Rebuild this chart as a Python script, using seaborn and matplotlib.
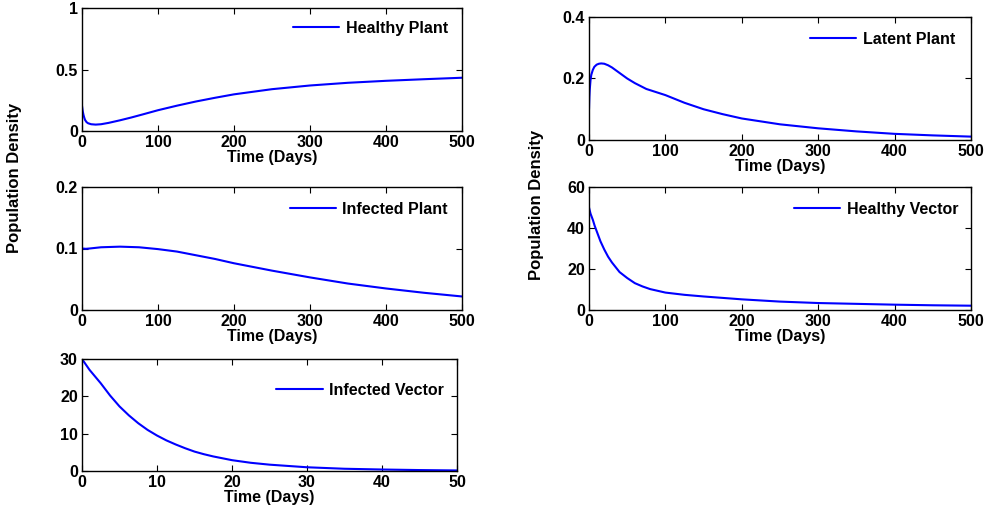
import numpy as np
import pandas as pd
import matplotlib
matplotlib.use("Agg")
import matplotlib.pyplot as plt
import seaborn as sns

sns.set_style("ticks")
plt.rcParams['font.family'] = ['Liberation Sans', 'DejaVu Sans']
plt.rcParams['font.weight'] = 'bold'
plt.rcParams['axes.labelweight'] = 'bold'
plt.rcParams['text.color'] = 'black'
plt.rcParams['axes.labelcolor'] = 'black'
plt.rcParams['xtick.color'] = 'black'
plt.rcParams['ytick.color'] = 'black'

# ---- data ----
hp_t = [0, 1, 2, 3, 4, 6, 8, 12, 18, 25, 35, 50, 65, 80, 100, 125, 150, 175, 200, 250, 300, 350, 400, 450, 500]
hp_v = [0.205, 0.16, 0.13, 0.108, 0.09, 0.072, 0.063, 0.055, 0.052, 0.055, 0.066, 0.087, 0.11, 0.135, 0.169, 0.206, 0.24, 0.27, 0.298, 0.34, 0.37, 0.392, 0.408, 0.421, 0.433]

lp_t = [0, 0.5, 1, 2, 3, 5, 7, 10, 13, 16, 20, 25, 30, 40, 50, 60, 75, 100, 125, 150, 175, 200, 250, 300, 350, 400, 450, 500]
lp_v = [0.1, 0.14, 0.165, 0.195, 0.212, 0.228, 0.238, 0.245, 0.248, 0.249, 0.248, 0.243, 0.236, 0.218, 0.2, 0.185, 0.166, 0.146, 0.121, 0.1, 0.084, 0.07, 0.051, 0.038, 0.028, 0.02, 0.015, 0.011]

ip_t = [0, 5, 10, 25, 50, 75, 100, 125, 150, 175, 200, 225, 250, 300, 350, 400, 450, 500]
ip_v = [0.1, 0.0995, 0.1, 0.102, 0.103, 0.102, 0.099, 0.095, 0.089, 0.083, 0.076, 0.07, 0.064, 0.053, 0.043, 0.035, 0.028, 0.022]

hv_t = [0, 2, 5, 7.5, 10, 15, 20, 25, 30, 40, 50, 60, 70, 80, 100, 125, 150, 200, 250, 300, 350, 400, 450, 500]
hv_v = [50, 47, 44, 41, 38.5, 33.5, 29.5, 26, 23.2, 18.5, 15.6, 13.1, 11.5, 10.2, 8.5, 7.4, 6.6, 5.2, 4.1, 3.4, 3.0, 2.6, 2.3, 2.1]

iv_t = [0, 1, 2.5, 3.75, 5, 6.25, 7.5, 8.75, 10, 11.25, 12.5, 13.75, 15, 16.25, 17.5, 20, 22.5, 25, 30, 35, 40, 45, 50]
iv_v = [30, 27.1, 23.5, 20.2, 17.3, 14.9, 12.8, 11.0, 9.5, 8.2, 7.1, 6.1, 5.2, 4.5, 3.9, 2.9, 2.2, 1.7, 1.0, 0.6, 0.4, 0.25, 0.15]

W, H = 987, 520
fig = plt.figure(figsize=(W / 100, H / 100), dpi=100)

def ax_px(x0, x1, y0, y1):
    return fig.add_axes([x0 / W, 1 - y1 / H, (x1 - x0) / W, (y1 - y0) / H])

panels = [
    (ax_px(82, 462, 8, 131), hp_t, hp_v, "Healthy Plant", (0, 500), [0, 100, 200, 300, 400, 500], (0, 1), [0, 0.5, 1], ["0", "0.5", "1"], (0.963, 0.837)),
    (ax_px(589, 971, 17, 140), lp_t, lp_v, "Latent Plant", (0, 500), [0, 100, 200, 300, 400, 500], (0, 0.4), [0, 0.2, 0.4], ["0", "0.2", "0.4"], (0.958, 0.821)),
    (ax_px(82, 462, 187, 310), ip_t, ip_v, "Infected Plant", (0, 500), [0, 100, 200, 300, 400, 500], (0, 0.2), [0, 0.1, 0.2], ["0", "0.1", "0.2"], (0.963, 0.821)),
    (ax_px(589, 971, 187, 310), hv_t, hv_v, "Healthy Vector", (0, 500), [0, 100, 200, 300, 400, 500], (0, 60), [0, 20, 40, 60], ["0", "20", "40", "60"], (0.966, 0.821)),
    (ax_px(82, 457, 359, 471), iv_t, iv_v, "Infected Vector", (0, 50), [0, 10, 20, 30, 40, 50], (0, 30), [0, 10, 20, 30], ["0", "10", "20", "30"], (0.965, 0.723)),
]

for ax, t, v, name, xl, xt, yl, yt, ytl, lpos in panels:
    df = pd.DataFrame({"t": t, "v": v})
    sns.lineplot(data=df, x="t", y="v", ax=ax, color=(0, 0, 1), linewidth=1.5, label=name)
    ax.set_xlim(*xl)
    ax.set_ylim(*yl)
    ax.set_xticks(xt)
    ax.set_xticklabels([str(x) for x in xt])
    ax.set_yticks(yt)
    ax.set_yticklabels(ytl)
    ax.tick_params(direction="in", length=4, width=0.8, top=True, right=True,
                   labelsize=11.5, pad=3)
    for lab in ax.get_xticklabels() + ax.get_yticklabels():
        lab.set_fontweight("bold")
    for s in ax.spines.values():
        s.set_linewidth(1.0)
        s.set_color("black")
    ax.set_xlabel("Time (Days)", fontsize=11.5, fontweight="bold", labelpad=0)
    ax.set_ylabel("")
    leg = ax.legend(loc="center right", bbox_to_anchor=lpos, frameon=False,
                    borderpad=0, borderaxespad=0, handlelength=2.9,
                    handletextpad=0.4, prop={"size": 11.5, "weight": "bold"})

fig.text(15 / W, 1 - 178 / H, "Population Density", rotation=90, ha="center", va="center",
         fontsize=12, fontweight="bold")
fig.text(537 / W, 1 - 205 / H, "Population Density", rotation=90, ha="center", va="center",
         fontsize=12, fontweight="bold")

fig.savefig("out.png", dpi=100)
